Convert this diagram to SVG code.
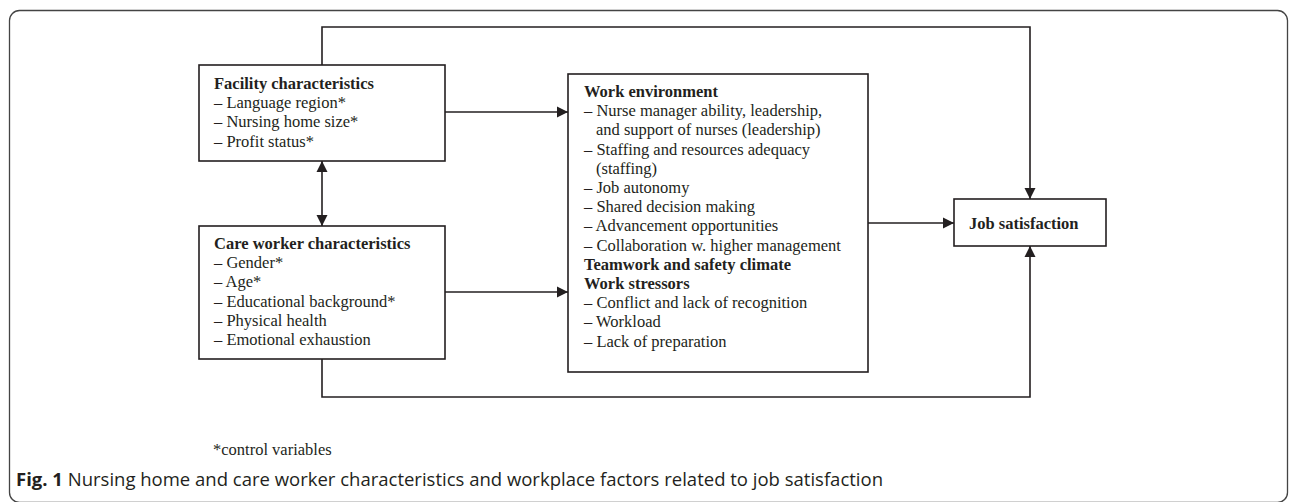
<svg xmlns="http://www.w3.org/2000/svg" width="1290" height="502" viewBox="0 0 1290 502">
<style>
.box{fill:#fff;stroke:#231f20;stroke-width:1.6}
.ln{fill:none;stroke:#231f20;stroke-width:1.6}
.t{font-family:"Liberation Serif","Times New Roman",serif;font-size:16.5px;fill:#231f20}
.b{font-weight:bold}
.cap{font-family:"Open Sans","Noto Sans",sans-serif;font-size:18.5px;fill:#231f20}
</style>
<defs>
<marker id="ah" markerUnits="userSpaceOnUse" markerWidth="12" markerHeight="12" refX="11" refY="6" orient="auto-start-reverse" viewBox="0 0 12 12">
<path d="M0,0.5 L11,6 L0,11.5 z" fill="#231f20"/>
</marker>
</defs>
<rect x="0" y="0" width="1290" height="502" fill="#fff"/>
<rect x="9.5" y="10.5" width="1278" height="492" rx="10" ry="10" fill="none" stroke="#444" stroke-width="1.3"/>

<g id="connectors">
<polyline class="ln" points="322,65 322,27 1030,27 1030,199" marker-end="url(#ah)"/>
<polyline class="ln" points="322,359 322,397 1030,397 1030,246" marker-end="url(#ah)"/>
<line class="ln" x1="322" y1="161" x2="322" y2="226" marker-start="url(#ah)" marker-end="url(#ah)"/>
<line class="ln" x1="445" y1="112" x2="568" y2="112" marker-end="url(#ah)"/>
<line class="ln" x1="445" y1="292" x2="568" y2="292" marker-end="url(#ah)"/>
<line class="ln" x1="868" y1="223" x2="954" y2="223" marker-end="url(#ah)"/>
</g>

<g id="facility">
<rect class="box" x="199" y="65" width="246" height="96"/>
<text class="t b" x="214" y="89">Facility characteristics</text>
<text class="t" x="214" y="108.2">– Language region*</text>
<text class="t" x="214" y="127.4">– Nursing home size*</text>
<text class="t" x="214" y="146.6">– Profit status*</text>
</g>

<g id="careworker">
<rect class="box" x="199" y="226" width="246" height="133"/>
<text class="t b" x="214" y="249">Care worker characteristics</text>
<text class="t" x="214" y="268.2">– Gender*</text>
<text class="t" x="214" y="287.4">– Age*</text>
<text class="t" x="214" y="306.6">– Educational background*</text>
<text class="t" x="214" y="325.8">– Physical health</text>
<text class="t" x="214" y="345">– Emotional exhaustion</text>
</g>

<g id="workenv">
<rect class="box" x="568" y="74" width="300" height="298"/>
<text class="t b" x="584" y="97">Work environment</text>
<text class="t" x="584" y="116.2">– Nurse manager ability, leadership,</text>
<text class="t" x="596" y="135.4">and support of nurses (leadership)</text>
<text class="t" x="584" y="154.6">– Staffing and resources adequacy</text>
<text class="t" x="596" y="173.8">(staffing)</text>
<text class="t" x="584" y="193">– Job autonomy</text>
<text class="t" x="584" y="212.2">– Shared decision making</text>
<text class="t" x="584" y="231.4">– Advancement opportunities</text>
<text class="t" x="584" y="250.6">– Collaboration w. higher management</text>
<text class="t b" x="584" y="269.8">Teamwork and safety climate</text>
<text class="t b" x="584" y="289">Work stressors</text>
<text class="t" x="584" y="308.2">– Conflict and lack of recognition</text>
<text class="t" x="584" y="327.4">– Workload</text>
<text class="t" x="584" y="346.6">– Lack of preparation</text>
</g>

<g id="jobsat">
<rect class="box" x="954" y="199" width="152" height="47"/>
<text class="t b" x="969" y="229">Job satisfaction</text>
</g>

<g id="notes">
<text class="t" x="213" y="455">*control variables</text>
<text class="cap" x="16" y="486"><tspan font-weight="bold">Fig. 1</tspan> Nursing home and care worker characteristics and workplace factors related to job satisfaction</text>
</g>
</svg>
